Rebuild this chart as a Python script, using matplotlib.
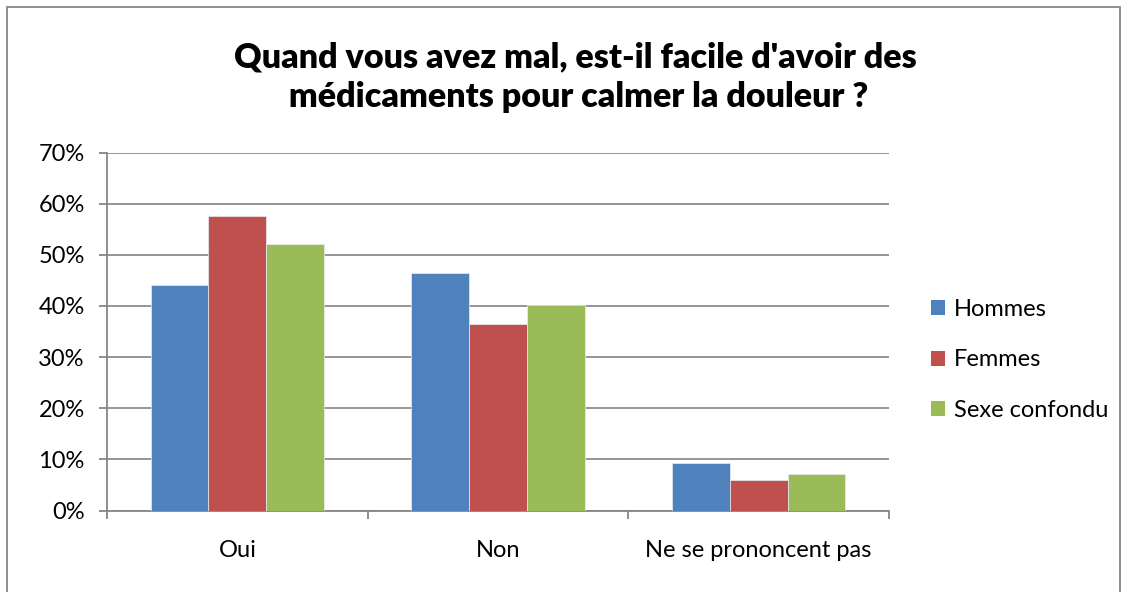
import matplotlib.pyplot as plt
from matplotlib.patches import Rectangle, Patch
import numpy as np

# data (percent)
categories = ['Oui', 'Non', 'Ne se prononcent pas']
hommes = [44.1, 46.4, 9.2]
femmes = [57.5, 36.4, 6.0]
sexe_confondu = [52.2, 40.2, 7.2]
series_names = ['Hommes', 'Femmes', 'Sexe confondu']
colors = ['#4F81BD', '#C0504D', '#9BBB59']

plt.rcParams['font.family'] = ['Lato', 'DejaVu Sans']

fig = plt.figure(figsize=(11.31, 5.92), dpi=100)
ax = fig.add_axes([107 / 1131, 1 - 510.5 / 592, 782 / 1131, 358 / 592])

x = np.arange(len(categories))
w = 0.664 / 3
for i, vals in enumerate([hommes, femmes, sexe_confondu]):
    ax.bar(x + (i - 1) * w, vals, width=w, color=colors[i],
           edgecolor='#e8eef6', linewidth=0.5, zorder=3, label=series_names[i])

ax.set_xlim(-0.5, 2.5)
ax.set_ylim(0, 70)
ax.set_yticks(range(0, 71, 10))
ax.set_yticklabels([f'{v}%' for v in range(0, 71, 10)], fontsize=17)
ax.yaxis.grid(True, color='#8c8c8c', linewidth=1.3, zorder=0)

ax.set_xticks([-0.5, 0.5, 1.5, 2.5])
ax.set_xticklabels([])
ax.set_xticks(x, minor=True)
ax.set_xticklabels(categories, minor=True, fontsize=17)
ax.tick_params(axis='x', which='major', length=6, color='#868686', width=1.3)
ax.tick_params(axis='x', which='minor', length=0, pad=21)
ax.tick_params(axis='y', length=6, color='#868686', width=1.3, pad=10)

for s in ['top', 'right']:
    ax.spines[s].set_visible(False)
for s in ['left', 'bottom']:
    ax.spines[s].set_color('#868686')
    ax.spines[s].set_linewidth(1.3)

# chart title
fig.text(575 / 1131, 1 - 77 / 592,
         "Quand vous avez mal, est-il facile d'avoir des\n médicaments pour calmer la douleur ?",
         ha='center', va='center', fontsize=24.5, fontweight='heavy', linespacing=1.3)

# legend
handles = [Patch(facecolor=c) for c in colors]
fig.legend(handles, series_names, loc='center left',
           bbox_to_anchor=(910 / 1131, 1 - 360 / 592), frameon=False,
           fontsize=17, handlelength=0.6, handleheight=0.6,
           handletextpad=0.35, labelspacing=1.25)

# outer chart border
fig.patches.append(Rectangle((7 / 1131, -0.1), 1113 / 1131, 1.1 - 7 / 592,
                             transform=fig.transFigure, fill=False,
                             edgecolor='#868686', linewidth=1.3))

fig.savefig('out.png', dpi=100)
